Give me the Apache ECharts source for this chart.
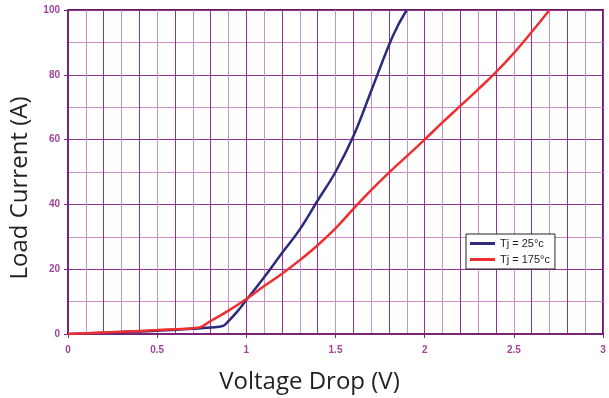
<!DOCTYPE html>
<html>
<head>
<meta charset="utf-8">
<script src="https://cdn.jsdelivr.net/npm/echarts@6/dist/echarts.min.js"></script>
<style>html,body{margin:0;padding:0;background:#fff}#c{width:609px;height:398px}</style>
</head>
<body>
<div id="c"></div>
<script>
const seriesNames = ['Tj = 25°c', 'Tj = 175°c'];
const blueV = [0, 0.3, 0.5, 0.7, 0.8, 0.87, 0.9, 0.95, 1.0, 1.1, 1.2, 1.3, 1.4, 1.5, 1.6, 1.7, 1.8, 1.85, 1.9];
const blueA = [0, 0.6, 1.0, 1.6, 2.0, 2.5, 4.0, 7.0, 10.5, 17.5, 25, 32.3, 41.2, 50, 61, 75, 89.2, 95.2, 100];
const redV = [0, 0.3, 0.5, 0.7, 0.75, 0.8, 0.9, 1.0, 1.1, 1.2, 1.3, 1.4, 1.5, 1.6, 1.7, 1.8, 1.9, 2.0, 2.1, 2.2, 2.3, 2.4, 2.5, 2.6, 2.7];
const redA = [0, 0.7, 1.2, 1.8, 2.3, 4.0, 7.2, 10.8, 14.8, 18.6, 22.8, 27.4, 32.6, 38.6, 44.4, 49.8, 54.9, 60, 65.3, 70.4, 75.5, 80.8, 86.7, 93.2, 100];
const xTickLabels = ['0', '0.5', '1', '1.5', '2', '2.5', '3'];
const yTickLabels = ['0', '20', '40', '60', '80', '100'];

const dark = '#93338f', light = '#cc90c8', labelColor = '#a0449c';
const chart = echarts.init(document.getElementById('c'));
const zip = (a, b) => a.map((v, i) => [v, b[i]]);
chart.setOption({
  animation: false,
  backgroundColor: '#fff',
  grid: { left: 68, right: 6, top: 10, bottom: 64, containLabel: false, outerBoundsMode: 'none',
    show: true, borderColor: '#5e1f5c', borderWidth: 2, backgroundColor: 'transparent' },
  legend: {
    orient: 'vertical', left: 466, top: 234, padding: [4, 5, 4, 4], itemGap: 5,
    backgroundColor: '#fff', borderColor: '#222', borderWidth: 1,
    icon: 'rect', itemWidth: 25, itemHeight: 3,
    textStyle: { fontFamily: 'Liberation Sans', fontSize: 11, color: '#222' },
    data: seriesNames
  },
  xAxis: [{
    type: 'value', min: 0, max: 3, interval: 0.1,
    name: 'Voltage Drop (V)', nameLocation: 'middle', nameGap: 36,
    nameTextStyle: { fontFamily: 'Open Sans', fontSize: 24, color: '#231f20', padding: [0, 52, 0, 0] },
    axisLine: { lineStyle: { color: '#7a2479', width: 2 } },
    axisTick: { show: false },
    axisLabel: {
      margin: 11, color: labelColor, fontFamily: 'Liberation Sans', fontWeight: 'bold', fontSize: 10,
      formatter: v => { const r = Math.round(v * 10); return r % 5 === 0 ? xTickLabels[r / 5] : ''; }
    },
    splitLine: { show: true, lineStyle: { color: [dark, light], width: 1 } }
  }, {
    type: 'value', min: 0, max: 3, interval: 0.5, position: 'bottom',
    axisLine: { show: false }, axisLabel: { show: false }, splitLine: { show: false },
    axisTick: { show: true, inside: false, length: 4, lineStyle: { color: '#7a2479', width: 1 } }
  }],
  yAxis: {
    type: 'value', min: 0, max: 100, interval: 20,
    name: 'Load Current (A)', nameLocation: 'middle', nameGap: 29,
    nameTextStyle: { fontFamily: 'Open Sans', fontSize: 24, color: '#231f20', padding: [0, 32, 0, 0] },
    axisLine: { show: true, lineStyle: { color: '#7a2479', width: 2 } },
    axisTick: { show: true, length: 4, lineStyle: { color: '#7a2479' } },
    axisLabel: { margin: 8, color: labelColor, fontFamily: 'Liberation Sans', fontWeight: 'bold', fontSize: 10,
      formatter: v => yTickLabels[Math.round(v / 20)] },
    splitLine: { show: true, lineStyle: { color: dark, width: 1 } },
    minorTick: { show: false, splitNumber: 2 },
    minorSplitLine: { show: true, lineStyle: { color: light, width: 1 } }
  },
  series: [{
    name: seriesNames[0], type: 'line', data: zip(blueV, blueA), showSymbol: false, smooth: 0.4,
    lineStyle: { color: '#2d2a7c', width: 2.5 }, itemStyle: { color: '#2d2a7c' }, z: 3
  }, {
    name: seriesNames[1], type: 'line', data: zip(redV, redA), showSymbol: false, smooth: 0.4,
    lineStyle: { color: '#ef2f2f', width: 2.5 }, itemStyle: { color: '#ef2f2f' }, z: 4
  }]
});
</script>
</body>
</html>
